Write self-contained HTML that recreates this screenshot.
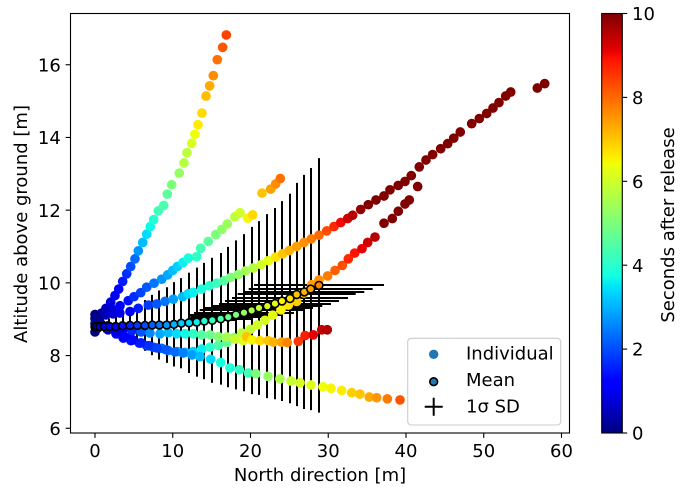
<!DOCTYPE html>
<html lang="en">
<head>
<meta charset="utf-8">
<title>Altitude vs north direction</title>
<style>
html,body{margin:0;padding:0;background:#fff;}
svg{display:block;}
text{font-family:"DejaVu Sans","Liberation Sans",sans-serif;font-size:18px;fill:#000;}
</style>
</head>
<body>
<svg id="chart" xmlns="http://www.w3.org/2000/svg" width="684" height="491" viewBox="0 0 684 491">
<defs>
<linearGradient id="jetGradient" x1="0" y1="1" x2="0" y2="0"></linearGradient>
<clipPath id="plotClip"><rect x="70.5" y="13.5" width="499" height="419.5"></rect></clipPath>
</defs>
<rect x="70.5" y="13.5" width="499" height="419.5" fill="#fff"></rect>
<g id="errorBars" clip-path="url(#plotClip)"></g>
<g id="individuals" clip-path="url(#plotClip)"></g>
<g id="means" clip-path="url(#plotClip)"></g>
<rect x="70.5" y="13.5" width="499" height="419.5" fill="none" stroke="#000" stroke-width="1.1"></rect>
<g id="xAxis"></g>
<g id="yAxis"></g>
<text x="320" y="481" text-anchor="middle">North direction [m]</text>
<text transform="translate(27 224) rotate(-90)" text-anchor="middle">Altitude above ground [m]</text>

<g>
<rect x="407.7" y="338.3" width="153" height="86.7" rx="3.5" ry="3.5" fill="#fff" fill-opacity="0.8" stroke="#ccc" stroke-width="1.1"></rect>
<circle cx="433.7" cy="354.3" r="4.7" fill="#1f77b4"></circle>
<text x="466" y="359.5">Individual</text>
<circle cx="433.7" cy="381.7" r="3.9" fill="#1f77b4" stroke="#000" stroke-width="1.6"></circle>
<text x="466" y="386">Mean</text>
<path d="M424.7 406.7H442.7M433.7 397.7V415.7" stroke="#000" stroke-width="2" fill="none"></path>
<text x="466" y="412.6">1σ SD</text>
</g>

<rect x="601.7" y="13.5" width="20.6" height="419.5" fill="url(#jetGradient)" stroke="#000" stroke-width="1.1"></rect>
<g id="cbAxis"></g>
<text transform="translate(674 225) rotate(-90)" text-anchor="middle">Seconds after release</text>
</svg>

<script>
// Axis tick labels
const xTickValues = [0, 10, 20, 30, 40, 50, 60];
const yTickValues = [6, 8, 10, 12, 14, 16];
const cbTickValues = [0, 2, 4, 6, 8, 10];

// Cluster at release point
const originX = [0, 0.1, 0, 0.1, 0, 0.1, 0.1, 0, 0.3, 0.3];
const originY = [9.13, 9.08, 9.02, 8.95, 8.88, 8.8, 8.72, 8.65, 9.0, 8.75];
const originT = [0, 0, 0.1, 0.1, 0.1, 0.1, 0.1, 0, 0.1, 0.1];

// Trajectory 1 (steepest)
const s1X = [0.22,0.86,1.41,2.02,2.57,3.05,3.56,4.08,4.59,5.14,5.57,6.14,6.65,7.11,7.55,8.14,8.84,9.3,9.86,10.84,11.45,11.83,12.44,12.86,13.25,13.76,14.28,14.75,15.22,15.73,16.42,16.89];
const s1Y = [9.06,9.17,9.3,9.47,9.65,9.83,10.04,10.25,10.45,10.66,10.88,11.11,11.34,11.55,11.74,11.98,12.13,12.44,12.7,13.02,13.3,13.58,13.84,14.09,14.35,14.67,15.14,15.42,15.7,16.14,16.48,16.82];
const s1T = [0.2,0.4,0.6,0.8,1,1.2,1.5,1.7,2,2.3,2.7,3.1,3.4,3.7,3.9,4.3,4.4,4.6,5,5.3,5.7,5.8,6.1,6.4,6.6,6.8,7.1,7.3,7.6,7.9,8.2,8.4];

// Trajectory 2
const s2X = [0.64,1.41,2.19,3.22,4.28,5.02,5.88,6.65,7.59,8.58,9.35,9.99,10.59,11.32,12,13.08,13.59,14.57,15.54,16.3,17.02,18,18.65,19.64,20.28,21.48,22.6,23.24,23.83];
const s2Y = [9.09,9.2,9.28,9.37,9.51,9.62,9.73,9.88,9.99,10.1,10.22,10.34,10.45,10.56,10.68,10.72,10.95,11.14,11.33,11.47,11.62,11.82,11.93,11.78,11.87,12.47,12.58,12.72,12.87];
const s2T = [0.3,0.5,0.8,1.1,1.4,1.7,1.9,2.1,2.4,2.7,2.9,3.1,3.3,3.6,3.8,4.1,4.3,4.6,5,5.2,5.4,5.8,6,6.5,6.8,7,7.4,7.6,7.9];

// Trajectory 3 (longest)
const s3X = [0.64,1.41,2.32,3.2,4.5,5.57,6.86,7.94,9,10.07,11.28,12,12.64,13.72,14.7,15.65,16.59,17.45,18.43,19.38,20.36,21.35,22.29,23.24,24.14,24.99,25.94,26.88,27.82,28.81,29.8,30.74,31.6,32.5,33.14,34.17,35.15,36.14,37.17,37.94,39,39.87,40.68,41.71,42.57,43.43,44.46,45.36,46.14,46.98,48.45,49.43,50.38,51.19,51.96,52.82,53.47,56.89,57.84];
const s3Y = [9.06,9.12,9.15,9.17,9.21,9.3,9.39,9.42,9.49,9.55,9.62,9.7,9.74,9.83,9.92,9.99,10.06,10.15,10.23,10.33,10.41,10.5,10.61,10.71,10.8,10.89,11,11.11,11.21,11.31,11.43,11.55,11.66,11.77,11.86,12.02,12.15,12.28,12.39,12.56,12.68,12.79,12.95,13.19,13.38,13.53,13.69,13.83,13.98,14.15,14.38,14.52,14.66,14.81,14.96,15.14,15.25,15.36,15.48];
const s3T = [0.3,0.5,0.7,0.9,1.2,1.5,1.8,2.1,2.4,2.8,3.1,3.4,3.6,3.8,4,4.2,4.5,5,5.2,5.5,5.7,6,6.3,6.7,7,7.2,7.4,7.6,7.8,8,8.3,8.7,9,9.3,9.5,9.8,10,10,10,10,10,10,10,10,10,10,10,10,10,10,10,10,10,10,10,10,10,10,10];

// Trajectory 4 (dips then rises)
const s4X = [0.64,1.67,2.7,3.64,4.63,5.7,6.65,7.5,8.58,9.43,10.59,11.58,12.64,13.72,14.79,15.86,16.94,17.88,18.87,19.94,20.87,21.86,22.86,23.92,24.86,25.94,26.88,27.87,28.81,29.93,30.87,31.81,32.58,33.4,34.34,35.07,36.01,37.17,38.24,39.01,39.87,40.42,41.5];
const s4Y = [8.84,8.71,8.6,8.48,8.41,8.34,8.27,8.23,8.2,8.14,8.11,8.09,8.11,8.18,8.23,8.28,8.36,8.49,8.62,8.72,8.84,8.97,9.11,9.26,9.39,9.49,9.72,9.95,10.08,10.19,10.34,10.48,10.66,10.82,10.94,11.11,11.26,11.64,11.77,11.97,12.17,12.28,12.65];
const s4T = [0.3,0.6,0.9,1.2,1.4,1.6,1.8,2,2.3,2.5,2.8,3.1,3.3,3.6,4,4.4,4.7,5.2,5.8,5.9,6,6.1,6.3,6.5,6.7,6.9,7.1,7.4,7.6,7.8,8.1,8.3,8.7,8.9,9.1,9.3,9.5,10,10,10,10,10,10];

// Trajectory 5 (flat)
const s5X = [0.64,1.67,2.57,3.6,4.76,5.92,7.07,8.36,9.43,10.51,11.58,12.64,13.72,14.79,15.86,16.94,18,19.07,19.5,20.19,21.22,22.29,22.93,24.01,24.73,26.15,27.02,28.08,29.16,29.88];
const s5Y = [8.9,8.82,8.76,8.71,8.68,8.65,8.62,8.6,8.63,8.6,8.6,8.6,8.57,8.57,8.52,8.51,8.45,8.41,8.52,8.43,8.41,8.41,8.37,8.37,8.36,8.39,8.55,8.57,8.71,8.71];
const s5T = [0.3,0.6,0.9,1.2,1.6,2.1,2.6,2.9,3.1,3.4,3.7,4.1,4.5,4.8,5.1,5.5,5.9,6.2,7,6.5,6.8,7,7.2,7.4,7.7,8.5,8.8,9.1,9.4,9.6];

// Trajectory 6 (descending)
const s6X = [0.64,1.67,2.83,3.86,4.89,5.92,6.95,7.97,9.13,10.29,11.32,12.48,13.5,14.88,16.17,17.36,18.56,19.72,20.71,22.25,23.79,25.21,26.37,27.78,29.32,30.35,31.73,33.02,34.08,35.28,36.23,37.6,39.23];
const s6Y = [8.84,8.73,8.6,8.51,8.43,8.35,8.27,8.21,8.16,8.1,8.07,8.02,7.97,7.9,7.81,7.66,7.61,7.52,7.5,7.43,7.36,7.3,7.25,7.19,7.14,7.1,7.04,6.98,6.94,6.86,6.84,6.81,6.78];
const s6T = [0.3,0.6,0.9,1.1,1.3,1.5,1.7,1.9,2.1,2.3,2.5,2.8,3.1,3.4,3.8,3.9,4.1,4.3,5,5.3,5.6,5.9,6.1,6.2,6.4,6.5,6.6,6.9,7,7.3,7.5,7.8,8.2];

// Mean trajectory with spread
const meanX = [0,0.06,0.22,0.64,1.2,1.84,2.66,3.54,4.5,5.44,6.43,7.37,8.27,9.22,10.16,11.1,12.09,13.08,14.06,15.09,16.17,17.14,18.14,19.16,20.15,21.09,22.16,23.15,24.05,25.08,25.94,26.92,27.74,28.81];
const meanY = [8.79,8.79,8.8,8.8,8.8,8.8,8.8,8.82,8.83,8.83,8.83,8.84,8.84,8.84,8.86,8.89,8.9,8.92,8.95,8.97,9.01,9.06,9.12,9.18,9.24,9.31,9.36,9.43,9.5,9.57,9.68,9.75,9.83,9.93];
const meanT = [0,0.2,0.4,0.6,0.8,1,1.2,1.4,1.6,1.8,2,2.2,2.4,2.7,3,3.2,3.4,3.6,3.9,4.2,4.4,4.7,5,5.3,5.6,5.8,6.1,6.3,6.5,6.7,7,7.2,7.4,7.7];
const meanSdY = [0.04,0.05,0.08,0.12,0.16,0.22,0.28,0.38,0.48,0.58,0.7,0.83,0.95,1.04,1.16,1.24,1.38,1.5,1.6,1.72,1.81,1.93,2.05,2.16,2.3,2.39,2.53,2.63,2.75,2.88,3.07,3.22,3.33,3.5];
const meanSdX = [0.02,0.02,0.03,0.05,0.08,0.1,0.15,0.2,0.25,0.3,0.4,0.51,0.64,0.77,0.9,1.03,1.29,1.8,2.32,3.09,4.12,4.89,5.92,6.43,6.69,6.95,7.07,7.2,7.33,7.46,7.59,7.72,7.97,8.36];

// Scales
const xDomain = [-3.15, 61.03];
const yDomain = [5.87, 17.41];
const cbDomain = [0, 10];
const plotLeft = 70.5, plotRight = 569.5, plotTop = 13.5, plotBottom = 433;
const SVG_NS = 'http://www.w3.org/2000/svg';

function xScale(v){ return plotLeft + (v - xDomain[0]) / (xDomain[1] - xDomain[0]) * (plotRight - plotLeft); }
function yScale(v){ return plotBottom - (v - yDomain[0]) / (yDomain[1] - yDomain[0]) * (plotBottom - plotTop); }
function cbScale(v){ return plotBottom - (v - cbDomain[0]) / (cbDomain[1] - cbDomain[0]) * (plotBottom - plotTop); }

function interp(points, f){
  for (let i = 1; i < points.length; i++) {
    if (f <= points[i][0]) {
      const a = points[i-1], b = points[i];
      return a[1] + (b[1] - a[1]) * (f - a[0]) / (b[0] - a[0]);
    }
  }
  return points[points.length-1][1];
}
const jetR = [[0,0],[0.35,0],[0.66,1],[0.89,1],[1,0.5]];
const jetG = [[0,0],[0.125,0],[0.375,1],[0.64,1],[0.91,0],[1,0]];
const jetB = [[0,0.5],[0.11,1],[0.34,1],[0.65,0],[1,0]];
function jet(t){
  const f = Math.max(0, Math.min(1, (t - cbDomain[0]) / (cbDomain[1] - cbDomain[0])));
  const c = [jetR, jetG, jetB].map(function(p){ return Math.round(interp(p, f) * 255); });
  return 'rgb(' + c[0] + ',' + c[1] + ',' + c[2] + ')';
}
function make(tag, attrs, parent){
  const el = document.createElementNS(SVG_NS, tag);
  Object.keys(attrs).forEach(function(k){ el.setAttribute(k, attrs[k]); });
  parent.appendChild(el);
  return el;
}

// Colorbar gradient
const gradient = document.getElementById('jetGradient');
[0,0.11,0.125,0.34,0.35,0.375,0.64,0.65,0.66,0.89,0.91,1].forEach(function(f){
  make('stop', {offset: f, 'stop-color': jet(cbDomain[0] + f * (cbDomain[1] - cbDomain[0]))}, gradient);
});

// Axes
const xAxisGroup = document.getElementById('xAxis');
xTickValues.forEach(function(v){
  const px = xScale(v);
  const tick = make('line', {x1: px, x2: px, y1: plotBottom, y2: plotBottom + 4.9, stroke: '#000', 'stroke-width': 1.1}, xAxisGroup);
  
  
  const label = make('text', {x: px, y: 457, 'text-anchor': 'middle'}, xAxisGroup);
  
  
  label.textContent = v;
});
const yAxisGroup = document.getElementById('yAxis');
yTickValues.forEach(function(v){
  const py = yScale(v);
  const tick = make('line', {x1: plotLeft - 4.9, x2: plotLeft, y1: py, y2: py, stroke: '#000', 'stroke-width': 1.1}, yAxisGroup);
  
  
  const label = make('text', {x: 60.8, y: py + 6.6, 'text-anchor': 'end'}, yAxisGroup);
  
  
  label.textContent = v;
});
const cbAxisGroup = document.getElementById('cbAxis');
cbTickValues.forEach(function(v){
  const py = cbScale(v);
  const tick = make('line', {x1: 622.3, x2: 627.2, y1: py, y2: py, stroke: '#000', 'stroke-width': 1.1}, cbAxisGroup);
  
  
  const label = make('text', {x: 632, y: py + 6.6}, cbAxisGroup);
  
  
  label.textContent = v;
});

// Error bars, behind the dots, snapped to whole pixels
const errorGroup = document.getElementById('errorBars');
meanX.forEach(function(mx, i){
  const bx = Math.round(xScale(mx));
  const by = Math.round(yScale(meanY[i]));
  const vBar = make('line', {x1: bx, x2: bx, y1: yScale(meanY[i] - meanSdY[i]), y2: yScale(meanY[i] + meanSdY[i]), stroke: '#000', 'stroke-width': 2}, errorGroup);
  
  
  const hBar = make('line', {x1: xScale(mx - meanSdX[i]), x2: xScale(mx + meanSdX[i]), y1: by, y2: by, stroke: '#000', 'stroke-width': 2}, errorGroup);
  
  
});

// Individual trajectories
const individualGroup = document.getElementById('individuals');
function drawSeries(xs, ys, ts){
  xs.forEach(function(x, i){
    const dot = make('circle', {cx: xScale(x), cy: yScale(ys[i]), r: 4.85, fill: jet(ts[i])}, individualGroup);
    
    
  });
}
drawSeries(s1X, s1Y, s1T);
drawSeries(s2X, s2Y, s2T);
drawSeries(s3X, s3Y, s3T);
drawSeries(s4X, s4Y, s4T);
drawSeries(s5X, s5Y, s5T);
drawSeries(s6X, s6Y, s6T);
drawSeries(originX, originY, originT);

// Mean markers
const meanGroup = document.getElementById('means');
meanX.forEach(function(x, i){
  const dot = make('circle', {cx: xScale(x), cy: yScale(meanY[i]), r: 3.9, fill: jet(meanT[i]), stroke: '#000', 'stroke-width': 1.6}, meanGroup);
  
  
});
</script>
</body>
</html>
